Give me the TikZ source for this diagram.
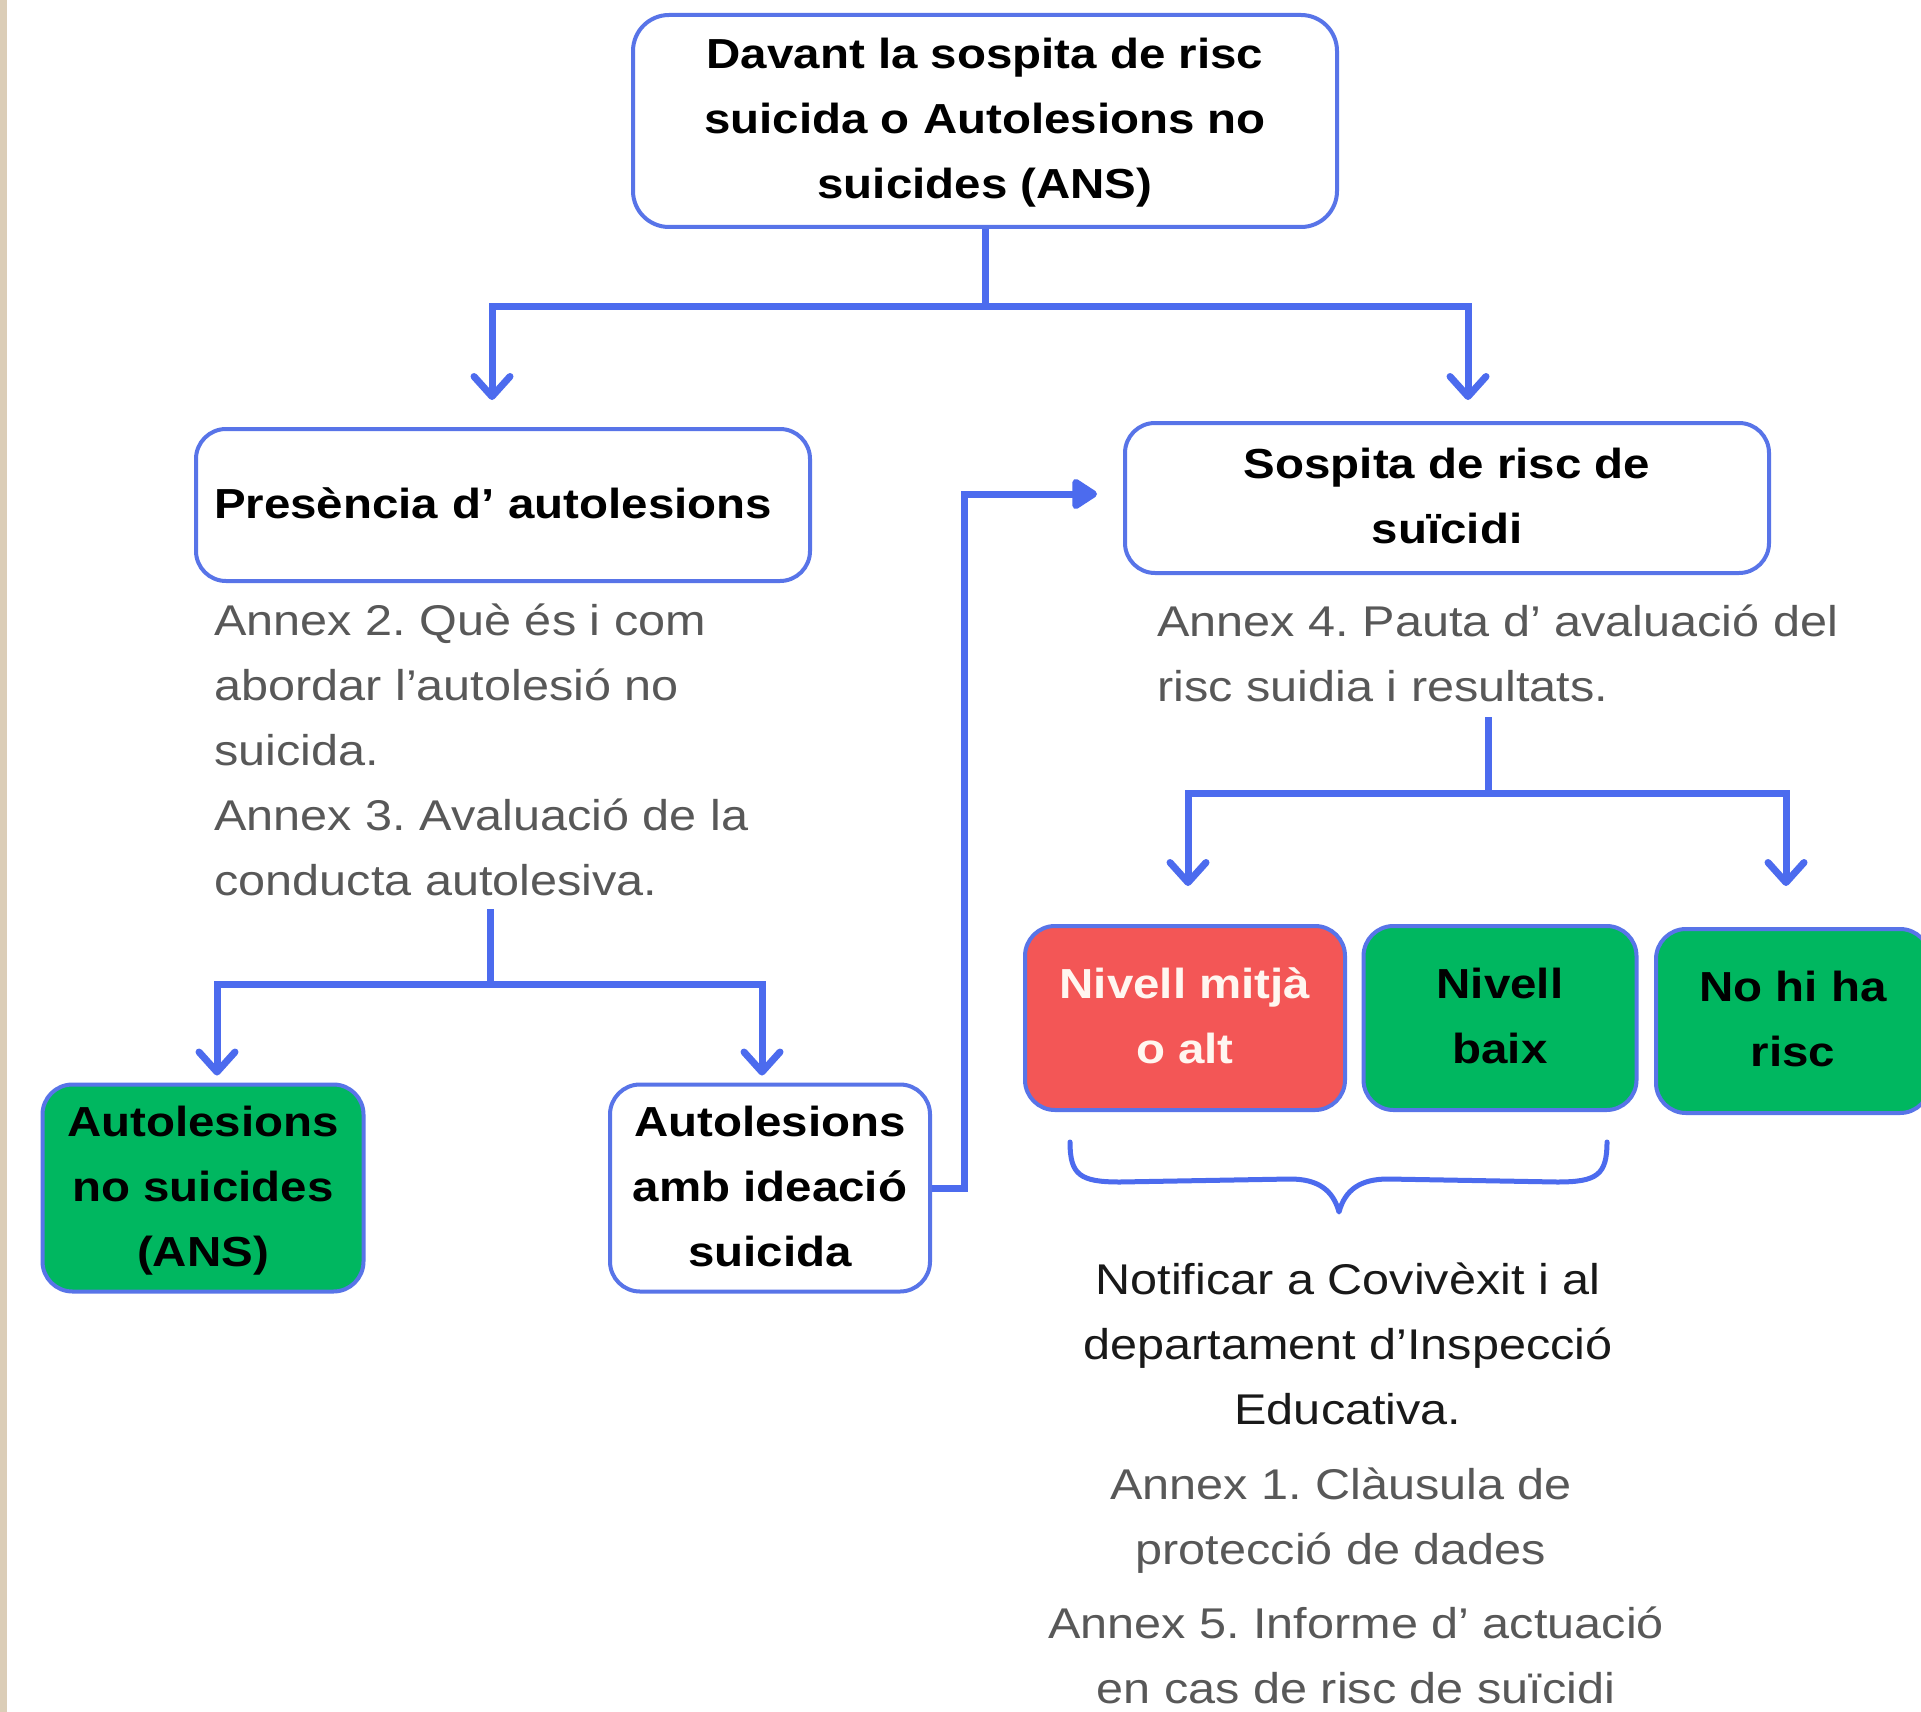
\documentclass[tikz,border=0pt]{standalone}
\usepackage{fontspec}
\setmainfont{Liberation Sans}[FakeStretch=1.13]
\usetikzlibrary{arrows.meta,calc}
\definecolor{bl}{RGB}{76,107,238}
\definecolor{bord}{RGB}{88,116,232}
\definecolor{grn}{RGB}{0,183,96}
\definecolor{rd}{RGB}{243,86,86}
\definecolor{gtx}{RGB}{88,88,88}
\definecolor{btx}{RGB}{25,25,25}
\definecolor{beige}{RGB}{219,205,183}
\definecolor{cream}{RGB}{255,246,240}
\begin{document}
\frenchspacing
\begin{tikzpicture}[x=0.5pt,y=-0.5pt,
  box/.style={draw=bord, line width=2pt, rounded corners=15pt, fill=white, align=center,
    inner sep=0pt, text=black, font=\fontsize{21pt}{32.5pt}\selectfont\bfseries},
  greenbox/.style={box, fill=grn},
  redbox/.style={box, fill=rd, text=cream},
  graytext/.style={text=gtx, inner sep=0pt, font=\fontsize{21.5pt}{32.5pt}\selectfont},
  blacktext/.style={text=btx, inner sep=0pt, font=\fontsize{21.5pt}{32.5pt}\selectfont},
  conn/.style={draw=bl, line width=3.5pt},
  barb/.style={-{Straight Barb[length=10pt,width=18pt,round]}},
  tri/.style={-{Triangle[length=14pt,width=17pt,round]}},
]
\useasboundingbox (0,0) rectangle (1921,1712);
\clip (0,0) rectangle (1921,1712);
\fill[white] (0,0) rectangle (1921,1712);
\fill[beige] (0,0) rectangle (7,1712);

% boxes
\node[box, rounded corners=18pt, minimum width=352pt, minimum height=106pt] (top) at (985,121)
  {\strut Davant la sospita de risc\\\strut suicida o Autolesions no\\\strut suicides (ANS)};
\node[box, minimum width=307pt, minimum height=76pt, text width=289pt, inner xsep=9pt, align=left] (pres) at (503,505)
  {\strut Presència d’ autolesions};
\node[box, minimum width=322pt, minimum height=75pt] (sosp) at (1447,498)
  {\strut Sospita de risc de\\\strut suïcidi};
\node[greenbox, minimum width=160.5pt, minimum height=103.5pt] (ans) at (203,1188)
  {\strut Autolesions\\\strut no suicides\\\strut (ANS)};
\node[box, minimum width=160pt, minimum height=103.5pt] (idea) at (770,1188)
  {\strut Autolesions\\\strut amb ideació\\\strut suicida};
\node[redbox, minimum width=160pt, minimum height=92pt] (red) at (1185,1018)
  {\strut Nivell mitjà\\\strut o alt};
\node[greenbox, minimum width=136.5pt, minimum height=92pt] (baix) at (1500,1018)
  {\strut Nivell\\\strut baix};
\node[greenbox, minimum width=137pt, minimum height=92pt] (nohi) at (1793,1021)
  {\strut No hi ha\\\strut risc};

% texts (base anchor = baseline of the last line)
\node[graytext, align=left, anchor=base west] (annexL) at (214,895)
  {Annex 2. Què és i com\\abordar l’autolesió no\\suicida.\\Annex 3. Avaluació de la\\conducta autolesiva.};
\node[graytext, align=left, anchor=base west] (annexR) at (1157,701)
  {Annex 4. Pauta d’ avaluació del\\risc suidia i resultats.};
\node[blacktext, align=center, anchor=base] (notif) at (1348,1424)
  {Notificar a Covivèxit i al\\departament d’Inspecció\\Educativa.};
\node[graytext, align=center, anchor=base] (annex1) at (1341,1564)
  {Annex 1. Clàusula de\\protecció de dades};
\node[graytext, align=center, anchor=base] (annex5) at (1356,1703)
  {Annex 5. Informe d’ actuació\\en cas de risc de suïcidi};

% connectors: top level
\coordinate (j0) at ($(top.south)+(0,77)$);
\coordinate (a1) at ($(pres.north)+(-11,-27)$);
\coordinate (a2) at ($(sosp.north)+(21,-21)$);
\draw[conn] (top.south) -- (j0);
\draw[conn, barb] (j0) -| (a1);
\draw[conn, barb] (j0) -| (a2);

% left branch
\coordinate (l0) at (490,909);
\coordinate (l1) at (490,984);
\coordinate (b1) at ($(ans.north)+(14,-7)$);
\coordinate (b2) at ($(idea.north)+(-8,-7)$);
\draw[conn] (l0) -- (l1);
\draw[conn, barb] (l1) -| (b1);
\draw[conn, barb] (l1) -| (b2);

% ideacio -> sospita
\draw[conn, tri] (idea.east) -- ++(32,0) |- ([xshift=-13pt, yshift=2pt]sosp.west);

% right branch
\coordinate (r0) at (1488,717);
\coordinate (r1) at (1488,793);
\coordinate (c1) at ($(red.north)+(3,-38)$);
\coordinate (c2) at ($(nohi.north)+(-7,-41)$);
\draw[conn] (r0) -- (r1);
\draw[conn, barb] (r1) -| (c1);
\draw[conn, barb] (r1) -| (c2);

% brace
\draw[draw=bl, line width=2.5pt, line cap=round, line join=round]
  (1070,1142) .. controls (1070,1175) and (1080,1182) .. (1120,1182)
  -- (1290,1179) .. controls (1318,1179) and (1333,1190) .. (1339,1212)
  .. controls (1345,1190) and (1360,1179) .. (1388,1179)
  -- (1557,1182) .. controls (1597,1182) and (1607,1175) .. (1607,1142);
\end{tikzpicture}
\end{document}
